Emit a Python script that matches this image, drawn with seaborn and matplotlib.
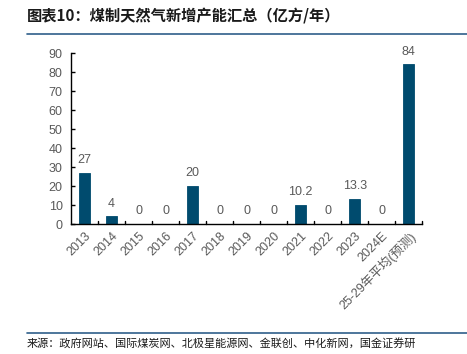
import matplotlib
matplotlib.use('Agg')
import matplotlib.pyplot as plt
import seaborn as sns
import pandas as pd
from matplotlib.lines import Line2D

# =========================
# Dados
# =========================
categorias = ['2013', '2014', '2015', '2016', '2017', '2018', '2019', '2020',
              '2021', '2022', '2023', '2024E', '25-29年平均(预测)']
valores = [27, 4, 0, 0, 20, 0, 0, 0, 10.2, 0, 13.3, 0, 84]
rotulos = ['27', '4', '0', '0', '20', '0', '0', '0', '10.2', '0', '13.3', '0', '84']

titulo = '图表10：煤制天然气新增产能汇总（亿方/年）'
fonte = '来源：政府网站、国际煤炭网、北极星能源网、金联创、中化新网，国金证券研'

df = pd.DataFrame({'cat': categorias, 'val': valores})

# =========================
# Estilo
# =========================
sns.set_style('white')
plt.rcParams['font.family'] = ['Liberation Sans', 'Noto Sans CJK SC', 'DejaVu Sans']

fig = plt.figure(figsize=(4.67, 3.54), dpi=100)
ax = fig.add_axes([0.152, 0.367, 0.752, 0.483])

cor = '#004B6E'
cinza = '#595959'

sns.barplot(data=df, x='cat', y='val', color=cor, width=0.4, ax=ax,
            saturation=1, edgecolor=cor, linewidth=0.6)

ax.set_ylim(0, 90)
ax.set_xlim(-0.5, len(categorias) - 0.5)
ax.set_yticks(range(0, 91, 10))
ax.set_xlabel('')
ax.set_ylabel('')

for i, (v, r) in enumerate(zip(valores, rotulos)):
    ax.annotate(r, (i, v), xytext=(0, 5), textcoords='offset points',
                ha='center', va='bottom', fontsize=9, color=cinza)

ax.set_xticks(range(len(categorias)))
ax.set_xticklabels(categorias, rotation=45, ha='right', rotation_mode='anchor',
                   fontsize=9, color=cinza)
ax.tick_params(axis='x', length=0, pad=4)
ax.tick_params(axis='y', labelsize=9, labelcolor=cinza, direction='in',
               length=3, width=1, color='black', left=True, pad=6)

# marcas entre categorias
for k in range(len(categorias)):
    ax.plot([k + 0.5, k + 0.5], [0, 1.4], color='black', lw=1, clip_on=False)

for s in ['top', 'right']:
    ax.spines[s].set_visible(False)
for s in ['left', 'bottom']:
    ax.spines[s].set_color('black')
    ax.spines[s].set_linewidth(1)

# =========================
# Título e fonte
# =========================
fig.text(27 / 467, 1 - 17 / 354, titulo, fontsize=11, fontweight='bold',
         color='#1a1a1a', va='center', ha='left',
         family=['Noto Sans CJK SC', 'DejaVu Sans'])
fig.add_artist(Line2D([27 / 467, 1], [1 - 34 / 354] * 2, color='#2f5f8a',
                      lw=1.2, transform=fig.transFigure))
fig.add_artist(Line2D([27 / 467, 1], [1 - 333 / 354] * 2, color='#2f5f8a',
                      lw=1.2, transform=fig.transFigure))
fig.text(27 / 467, 1 - 344 / 354, fonte, fontsize=8, color='#1a1a1a',
         va='center', ha='left', family=['Noto Sans CJK SC', 'DejaVu Sans'])

plt.savefig('out.png', dpi=100)
